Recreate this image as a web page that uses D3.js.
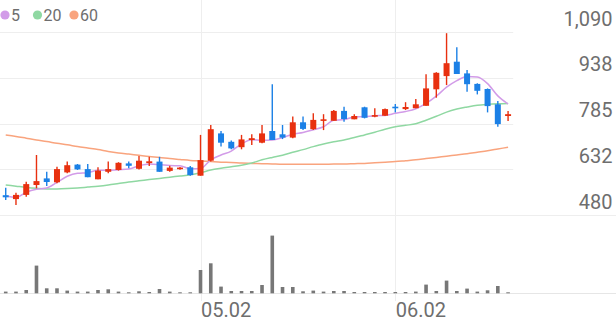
<!DOCTYPE html>
<html>
<head>
<meta charset="utf-8">
<script src="https://cdn.jsdelivr.net/npm/d3@7"></script>
<style>
  html, body { margin: 0; padding: 0; background: #fff; }
  svg { display: block; font-family: Roboto, "Noto Sans", sans-serif; }
</style>
</head>
<body>
<svg id="chart" width="616" height="321"></svg>
<script>
const dates = ["04.04","04.07","04.08","04.09","04.10","04.11","04.14","04.15","04.16","04.17","04.18","04.21","04.22","04.23","04.24","04.25","04.28","04.29","04.30",
  "05.02","05.07","05.08","05.09","05.12","05.13","05.14","05.15","05.16","05.19","05.20","05.21","05.22","05.23","05.26","05.27","05.28","05.29","05.30",
  "06.02","06.04","06.05","06.09","06.10","06.11","06.12","06.13","06.16","06.17","06.18","06.19"];
const open  = [546,533,547,580,602,589,622,648,633,599,624,630,652,634,653,658,627,633,639,611,661,752,724,706,730,721,760,749,738,789,766,796,794,827,799,839,809,811,841,833,836,844,899,943,991,952,917,900,849,810];
const high  = [571,554,591,680,624,641,658,650,650,639,658,656,658,677,674,674,644,640,643,747,780,760,728,747,749,780,916,780,808,808,819,816,830,841,816,841,836,835,850,856,867,949,956,1086,1039,963,919,902,860,827];
const low   = [530,513,541,569,577,586,619,630,606,599,619,628,636,632,643,624,624,631,611,611,658,708,699,699,713,719,730,733,736,763,763,763,794,791,799,802,806,810,822,830,836,844,871,913,950,891,882,822,774,793];
const close = [539,547,583,593,590,633,646,632,606,628,633,654,644,661,659,624,638,638,613,663,766,721,702,732,736,752,730,738,789,767,797,799,827,800,810,804,813,833,836,840,849,902,954,986,950,916,894,843,783,816];
const volume = [17,17,33,277,50,50,27,17,17,33,40,17,10,20,13,43,17,10,10,233,300,67,23,23,23,83,577,63,63,20,27,17,23,23,13,13,13,13,13,13,17,87,23,127,23,47,17,30,73,10];
const ma5  = [543,539,556,566,570,589,609,619,621,629,629,631,633,644,650,648,645,644,634,635,664,680,693,717,731,729,730,738,749,755,764,774,796,798,807,808,811,812,819,825,834,852,876,906,928,942,940,918,877,850];
const ma20 = [580,576,572,569,567,567,568,570,573,576,580,585,590,594,598,602,606,610,614,621,630,636,641,646,653,664,672,679,689,698,708,717,724,730,738,747,756,766,774,779,784,796,809,823,833,840,846,849,851,852];
const ma60 = [747,742,736,730,725,719,714,708,703,698,692,687,683,679,675,672,668,665,662,660,658,656,655,653,652,651,650,649,649,649,649,649,650,650,651,652,654,656,658,661,664,668,672,676,680,684,689,694,700,706];
const priceTicks = [480, 632.5, 785, 937.5, 1090];
const priceTickLabels = ["480", "632", "785", "938", "1,090"];
const dateTicks = ["05.02", "06.02"];
const legendItems = ["5", "20", "60"];

const colors = { up: "#e8300f", down: "#1b80e6", ma5: "#d29be8", ma20: "#8fd8a2", ma60: "#f9a47e", vol: "#777777", grid: "#eeeeee", text: "#6e6e6e" };

const svg = d3.select("#chart");
const W = 616;
const plotRight = 513.2;

const x = d3.scaleBand().domain(dates).range([0.6, plotRight]).padding(0);
const cx = d => x(d) + x.bandwidth() / 2;
const y = d3.scaleLinear().domain([480, 1090]).range([215, 32]);
const yv = d3.scaleLinear().domain([0, 600]).range([293.3, 233.3]);

// horizontal grid
const grid = svg.append("g");
grid.selectAll("line.h").data(priceTicks).join("line")
  .attr("x1", 0).attr("x2", d => d === 480 ? W : plotRight)
  .attr("y1", d => Math.round(y(d)) + 0.5).attr("y2", d => Math.round(y(d)) + 0.5)
  .attr("stroke", colors.grid).attr("stroke-width", 1);
grid.append("line").attr("x1", 0).attr("x2", W)
  .attr("y1", Math.round(yv(0)) + 0.5).attr("y2", Math.round(yv(0)) + 0.5)
  .attr("stroke", "#e6e6e6").attr("stroke-width", 1);
// vertical grid
grid.selectAll("line.v").data(dateTicks).join("line")
  .attr("x1", d => Math.round(cx(d)) + 0.5).attr("x2", d => Math.round(cx(d)) + 0.5)
  .attr("y1", 0).attr("y2", 301)
  .attr("stroke", colors.grid).attr("stroke-width", 1);

// MA lines
const idx = d3.range(dates.length);
const lineGen = arr => d3.line().x(i => cx(dates[i])).y(i => y(arr[i])).curve(d3.curveMonotoneX)(idx);
[[ma60, colors.ma60], [ma20, colors.ma20], [ma5, colors.ma5]].forEach(([arr, c]) => {
  svg.append("path").attr("d", lineGen(arr)).attr("fill", "none").attr("stroke", c).attr("stroke-width", 1.5);
});

// candles
const cg = svg.append("g");
idx.forEach(i => {
  const up = close[i] >= open[i];
  const col = up ? colors.up : colors.down;
  const xc = cx(dates[i]);
  cg.append("line").attr("x1", xc).attr("x2", xc)
    .attr("y1", y(high[i])).attr("y2", y(low[i]))
    .attr("stroke", col).attr("stroke-width", 1.4);
  const top = y(Math.max(open[i], close[i]));
  const bot = y(Math.min(open[i], close[i]));
  cg.append("rect").attr("x", xc - 3).attr("width", 6)
    .attr("y", top).attr("height", Math.max(1.6, bot - top))
    .attr("fill", col);
});

// volume
svg.append("g").selectAll("rect").data(idx).join("rect")
  .attr("x", i => cx(dates[i]) - 1.8).attr("width", 3.6)
  .attr("y", i => yv(volume[i])).attr("height", i => yv(0) - yv(volume[i]))
  .attr("fill", colors.vol);

// y axis labels
const yAxis = d3.axisLeft(y).tickValues(priceTicks).tickSize(0).tickPadding(0)
  .tickFormat((d, i) => priceTickLabels[i]);
const ya = svg.append("g").attr("transform", "translate(612.5,0)").call(yAxis);
ya.select(".domain").remove();
ya.selectAll("text").attr("dy", null).attr("y", -7)
  .attr("fill", colors.text).attr("font-size", 20).attr("font-family", "Roboto, sans-serif");

// x axis labels
const xAxis = d3.axisBottom(x).tickValues(dateTicks).tickSize(0).tickPadding(0);
const xa = svg.append("g").attr("transform", "translate(0,0)").call(xAxis);
xa.select(".domain").remove();
xa.selectAll(".tick").attr("transform", d => `translate(${cx(d)},0)`);
xa.selectAll("text").attr("dy", null).attr("y", 317).attr("x", 0.5)
  .attr("text-anchor", "start")
  .attr("fill", colors.text).attr("font-size", 20).attr("font-family", "Roboto, sans-serif");

// legend
const legColors = [colors.ma5, colors.ma20, colors.ma60];
const legX = [5, 37.5, 74];
const lg = svg.append("g");
legendItems.forEach((t, i) => {
  lg.append("circle").attr("cx", legX[i]).attr("cy", 15).attr("r", 4.6).attr("fill", legColors[i]);
  lg.append("text").attr("x", legX[i] + 6).attr("y", 21).text(t)
    .attr("fill", colors.text).attr("font-size", 16).attr("font-family", "Roboto, sans-serif");
});
</script>
</body>
</html>
